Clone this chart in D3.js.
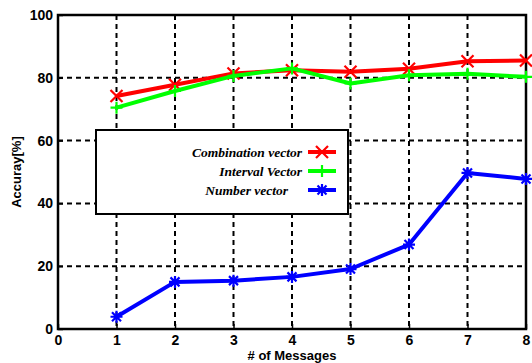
<!DOCTYPE html>
<html lang="en">
  <head>
    <meta charset="UTF-8" />
    <title>Accuracy vs messages</title>
    <script src="https://d3js.org/d3.v7.min.js"></script>
    <style>
      body { margin: 0; padding: 0; background: #fff; }
      svg { display: block; }
      .tick text { font-family: "Liberation Sans", Arial, sans-serif; font-weight: bold; font-size: 14px; fill: #000; }
      .axis-label { font-family: "Liberation Sans", Arial, sans-serif; font-weight: bold; font-size: 13px; }
      .legend-text { font-family: "Liberation Serif", "Times New Roman", serif; font-weight: bold; font-style: italic; font-size: 13.5px; }
    </style>
  </head>
  <body>
    <svg width="532" height="363"></svg>
    <script>
      // data
      const messages = [1, 2, 3, 4, 5, 6, 7, 8];
      const combination = [74.2, 77.8, 81.4, 82.4, 81.9, 82.9, 85.3, 85.5];
      const interval = [70.5, 75.8, 80.6, 83.0, 78.2, 80.8, 81.3, 80.3];
      const number = [3.9, 15.0, 15.4, 16.6, 19.1, 26.9, 49.7, 47.8];
      const xTicks = [0, 1, 2, 3, 4, 5, 6, 7, 8];
      const yTicks = [0, 20, 40, 60, 80, 100];
      const seriesNames = ["Combination vector", "Interval Vector", "Number vector"];

      const margin = { top: 15, right: 6, bottom: 34, left: 58 };
      const width = 532 - margin.left - margin.right;
      const height = 363 - margin.top - margin.bottom;

      const svg = d3.select("svg")
        .append("g")
        .attr("transform", `translate(${margin.left},${margin.top})`);

      const x = d3.scaleLinear().domain([0, 8]).range([0, width]);
      const y = d3.scaleLinear().domain([0, 100]).range([height, 0]);

      // dashed grid
      svg.append("g")
        .selectAll("line")
        .data(xTicks.slice(1, -1))
        .enter()
        .append("line")
        .attr("x1", (d) => x(d)).attr("x2", (d) => x(d))
        .attr("y1", 0).attr("y2", height)
        .attr("stroke", "#000").attr("stroke-width", 2)
        .attr("stroke-dasharray", "5,4");
      svg.append("g")
        .selectAll("line")
        .data(yTicks.slice(1, -1))
        .enter()
        .append("line")
        .attr("x1", 0).attr("x2", width)
        .attr("y1", (d) => y(d)).attr("y2", (d) => y(d))
        .attr("stroke", "#000").attr("stroke-width", 2)
        .attr("stroke-dasharray", "5,4");

      // axes
      const xAxis = svg.append("g")
        .attr("transform", `translate(0,${height})`)
        .call(d3.axisBottom(x).tickValues(xTicks).tickSize(-5).tickPadding(6).tickFormat(d3.format("d")));
      const yAxis = svg.append("g")
        .call(d3.axisLeft(y).tickValues(yTicks).tickSize(-5).tickPadding(5));
      [xAxis, yAxis].forEach((a) => {
        a.select(".domain").remove();
        a.selectAll(".tick line").attr("stroke", "#000").attr("stroke-width", 1.5);
      });

      // box
      svg.append("rect")
        .attr("width", width).attr("height", height)
        .attr("fill", "none").attr("stroke", "#000").attr("stroke-width", 2.5);

      svg.append("text")
        .attr("class", "axis-label")
        .attr("x", width / 2).attr("y", height + 31)
        .attr("text-anchor", "middle")
        .text("# of Messages");
      svg.append("text")
        .attr("class", "axis-label")
        .attr("transform", `translate(-37,${height / 2}) rotate(-90)`)
        .attr("text-anchor", "middle")
        .text("Accuray[%]");

      const series = [
        { name: seriesNames[0], values: combination, color: "#ff0000", marker: "x" },
        { name: seriesNames[1], values: interval, color: "#00ff00", marker: "+" },
        { name: seriesNames[2], values: number, color: "#0000ff", marker: "*" },
      ];

      const line = d3.line()
        .x((d, i) => x(messages[i]))
        .y((d) => y(d));

      function markerPath(type, s) {
        if (type === "x") return `M${-s},${-s}L${s},${s}M${-s},${s}L${s},${-s}`;
        if (type === "+") return `M${-s},0L${s},0M0,${-s}L0,${s}`;
        const a = s * 0.75;
        return `M${-s},0L${s},0M0,${-s}L0,${s}M${-a},${-a}L${a},${a}M${-a},${a}L${a},${-a}`;
      }

      series.forEach((s) => {
        svg.append("path")
          .datum(s.values)
          .attr("d", line)
          .attr("fill", "none")
          .attr("stroke", s.color)
          .attr("stroke-width", 4)
          .attr("stroke-linejoin", "round");
        svg.append("g")
          .selectAll("path")
          .data(s.values)
          .enter()
          .append("path")
          .attr("transform", (d, i) => `translate(${x(messages[i])},${y(d)})`)
          .attr("d", markerPath(s.marker, 6))
          .attr("stroke", s.color)
          .attr("stroke-width", 2.2)
          .attr("fill", "none");
      });

      // legend
      const legend = svg.append("g").attr("transform", "translate(38,115)");
      legend.append("rect")
        .attr("width", 252).attr("height", 84)
        .attr("fill", "#fff").attr("stroke", "#000").attr("stroke-width", 2);
      const items = legend.selectAll(".legend-item")
        .data(series)
        .enter()
        .append("g")
        .attr("class", "legend-item")
        .attr("transform", (d, i) => `translate(0,${22 + i * 19})`);
      items.append("text")
        .attr("class", "legend-text")
        .attr("x", (d, i) => (i === 2 ? 192 : 206))
        .attr("y", 5)
        .attr("text-anchor", "end")
        .text((d) => d.name);
      items.append("line")
        .attr("x1", 212).attr("x2", 240)
        .attr("stroke", (d) => d.color)
        .attr("stroke-width", 4);
      items.append("path")
        .attr("transform", "translate(226,0)")
        .attr("d", (d) => markerPath(d.marker, 6))
        .attr("stroke", (d) => d.color)
        .attr("stroke-width", 2.2)
        .attr("fill", "none");
    </script>
  </body>
</html>
